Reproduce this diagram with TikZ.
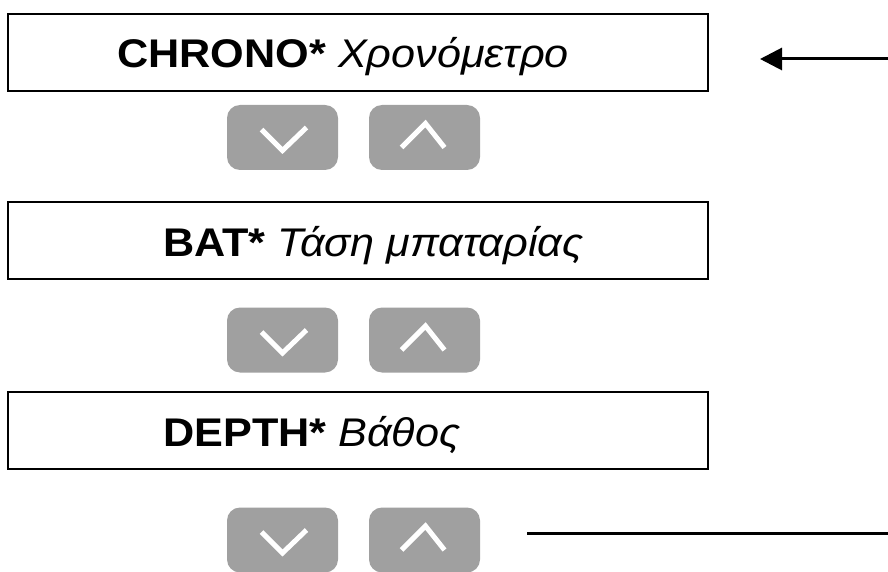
\documentclass[tikz,border=0pt]{standalone}
\usepackage{fontspec}
\setmainfont[FakeStretch=1.08]{Liberation Sans}
\usetikzlibrary{arrows.meta}
\definecolor{btngray}{HTML}{A0A0A0}
\tikzset{
  menubox/.style={draw=black, line width=2pt, minimum width=700pt, minimum height=77pt, inner sep=0pt},
  menutext/.style={anchor=base west, inner sep=0pt, font=\fontsize{40}{44}\selectfont},
  btn/.style={fill=btngray, rounded corners=13pt, minimum width=111pt, minimum height=65pt, inner sep=0pt},
  chev/.style={draw=white, line width=5pt, line cap=butt, line join=miter},
  conn/.style={draw=black, line width=3pt}
}
\begin{document}
\begin{tikzpicture}[x=1pt,y=-1pt]
\useasboundingbox (0,0) rectangle (888,572);
% boxes
\node[menubox] (b1) at (358,52.5) {};
\node[menubox] (b2) at (358,240.5) {};
\node[menubox] (b3) at (358,430.5) {};
\node[menutext] (t1) at (117,68) {\textbf{CHRONO*} \textit{Χρονόμετρο}};
\node[menutext] (t2) at (163,256) {\textbf{BAT*} \textit{Τάση μπαταρίας}};
\node[menutext] (t3) at (163,446) {\textbf{DEPTH*} \textit{Βάθος}};
% buttons
\foreach \r/\y in {1/137.5, 2/340, 3/540}{
  \node[btn] (d\r) at (282.5,\y) {};
  \node[btn] (u\r) at (424.5,\y) {};
  \draw[chev] ([shift={(-21,-8)}]d\r.center) -- ([shift={(0,13)}]d\r.center) -- ([shift={(24,-10)}]d\r.center);
  \draw[chev] ([shift={(-23,10)}]u\r.center) -- ([shift={(1,-14)}]u\r.center) -- ([shift={(20,10)}]u\r.center);
}
% connectors
\coordinate (aS) at (888,59);
\coordinate (aE) at (760,59);
\draw[conn, -{Triangle[length=22pt,width=22pt]}] (aS) -- (aE);
\coordinate (lS) at (527,533);
\coordinate (lE) at (888,533);
\draw[conn] (lS) -- (lE);
\end{tikzpicture}
\end{document}
